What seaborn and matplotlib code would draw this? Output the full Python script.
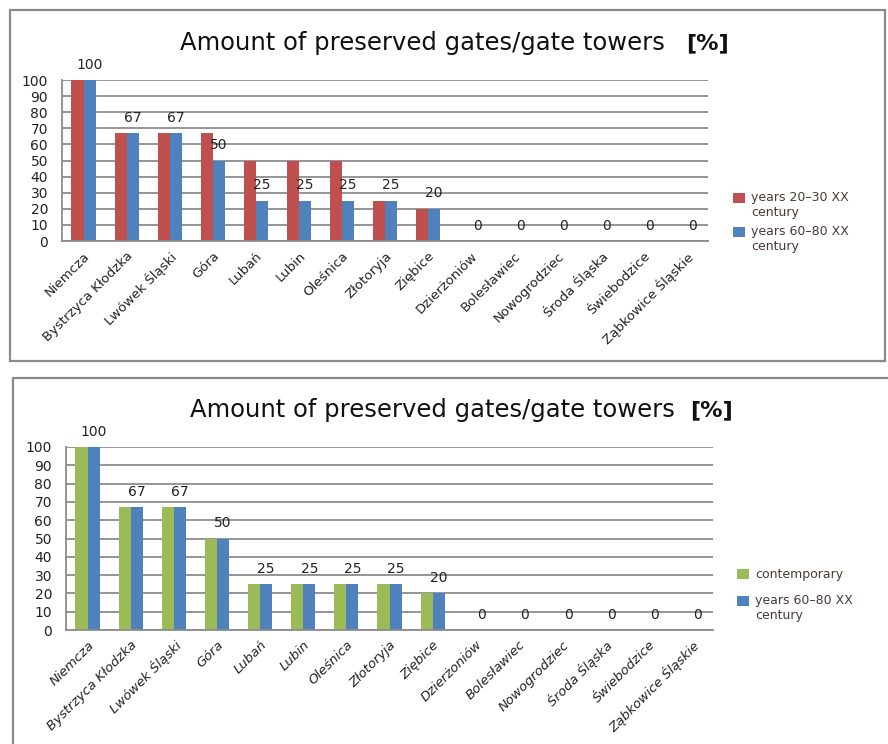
import numpy as np
import pandas as pd
import matplotlib
matplotlib.use("Agg")
import matplotlib.pyplot as plt
import seaborn as sns
from matplotlib.patches import Rectangle
from matplotlib.legend_handler import HandlerPatch

# towns (same order in both charts)
towns = ["Niemcza", "Bystrzyca Kłodzka", "Lwówek Śląski", "Góra", "Lubań", "Lubin",
         "Oleśnica", "Złotoryja", "Ziębice", "Dzierżoniów", "Bolesławiec",
         "Nowogrodziec", "Środa Śląska", "Świebodzice", "Ząbkowice Śląskie"]

# percent of preserved gates / gate towers
years_20_30 = [100, 67, 67, 67, 50, 50, 50, 25, 20, 0, 0, 0, 0, 0, 0]
years_60_80 = [100, 67, 67, 50, 25, 25, 25, 25, 20, 0, 0, 0, 0, 0, 0]
contemporary = [100, 67, 67, 50, 25, 25, 25, 25, 20, 0, 0, 0, 0, 0, 0]

label_20_30 = "years 20–30 XX\ncentury"
label_60_80 = "years 60–80 XX\ncentury"
label_now = "contemporary"

RED = "#C0504D"
BLUE = "#4F81BD"
GREEN = "#9BBB59"
GRID = "#8c8c8c"

sns.set_style("white")
plt.rcParams["font.family"] = ["DejaVu Sans"]

W, H = 888, 744
fig = plt.figure(figsize=(W / 100, H / 100), dpi=100)


def px(x0, y0, x1, y1):
    # pixel box -> figure fraction [left, bottom, width, height]
    return [x0 / W, 1 - y1 / H, (x1 - x0) / W, (y1 - y0) / H]


def square(shift):
    # legend square lined up with the first line of a two-line label
    def make(legend, orig_handle, xdescent, ydescent, width, height, fontsize):
        return Rectangle((-xdescent, -ydescent + shift * fontsize), width, height)
    return HandlerPatch(patch_func=make)


def draw_panel(ax, first, first_label, first_color, italic):
    df = pd.DataFrame({
        "town": towns * 2,
        "value": first + years_60_80,
        "period": [first_label] * len(towns) + [label_60_80] * len(towns),
    })
    sns.barplot(data=df, x="town", y="value", hue="period",
                hue_order=[first_label, label_60_80],
                palette=[first_color, BLUE], width=0.56, saturation=1,
                linewidth=0, edgecolor="none",
                ax=ax, legend=True)
    ax.set_xlim(-0.5, len(towns) - 0.5)
    ax.set_ylim(0, 100)
    ax.set_yticks(np.arange(0, 101, 10))
    ax.set_xlabel("")
    ax.set_ylabel("")
    ax.grid(axis="y", color=GRID, linewidth=1.3)
    ax.set_axisbelow(True)
    for s in ["top", "right"]:
        ax.spines[s].set_visible(False)
    for s in ["left", "bottom"]:
        ax.spines[s].set_color(GRID)
        ax.spines[s].set_linewidth(1.3)
    ax.set_xticks(np.arange(-0.5, len(towns), 1), minor=True)
    ax.tick_params(axis="x", which="major", length=0, pad=6)
    ax.tick_params(axis="x", which="minor", length=5, color=GRID, width=1.2)
    ax.tick_params(axis="y", length=5, color=GRID, width=1.2, labelsize=10,
                   pad=5, labelcolor="#222222")
    ax.set_xticks(range(len(towns)))
    ax.set_xticklabels(towns, rotation=45, ha="right", rotation_mode="anchor",
                       fontsize=9.5, color="#222222",
                       fontstyle="italic" if italic else "normal")
    # value labels over the 60-80 series
    ax.bar_label(ax.containers[1], fmt="%d", padding=6, fontsize=10, color="#222222")
    handles, labels = ax.get_legend_handles_labels()
    return handles, labels


# top chart
fig.patches.append(Rectangle((10 / W, 1 - 361 / H), 875 / W, 351 / H,
                             transform=fig.transFigure, fill=False,
                             edgecolor="#8a8a8a", linewidth=1.6))
ax1 = fig.add_axes(px(62, 80, 708, 241))
h1, l1 = draw_panel(ax1, years_20_30, label_20_30, RED, italic=False)
ax1.legend(h1, l1, loc="upper left", bbox_to_anchor=(722 / W, 1 - 180 / H),
           bbox_transform=fig.transFigure, frameon=False, fontsize=9,
           handlelength=0.9, handleheight=0.9, handletextpad=0.5,
           labelspacing=0.45, labelcolor="#4a3a36",
           handler_map={h: square(0.62) for h in h1})
fig.text(180 / W, 1 - 43 / H, "Amount of preserved gates/gate towers",
         fontsize=17.5, ha="left", va="center", color="#111111")
fig.text(686 / W, 1 - 43 / H, "[%]", fontsize=16, fontweight="bold",
         ha="left", va="center", color="#111111")

# bottom chart
fig.patches.append(Rectangle((13 / W, 1 - 760 / H), 880 / W, 382 / H,
                             transform=fig.transFigure, fill=False,
                             edgecolor="#8a8a8a", linewidth=1.6))
ax2 = fig.add_axes(px(66, 447, 713, 630))
h2, l2 = draw_panel(ax2, contemporary, label_now, GREEN, italic=True)
ax2.legend(h2, l2, loc="upper left", bbox_to_anchor=(726 / W, 1 - 557 / H),
           bbox_transform=fig.transFigure, frameon=False, fontsize=9,
           handlelength=0.9, handleheight=0.9, handletextpad=0.5,
           labelspacing=1.0, labelcolor="#4a3a36",
           handler_map={h2[0]: square(0), h2[1]: square(0.62)})
fig.text(190 / W, 1 - 410 / H, "Amount of preserved gates/gate towers",
         fontsize=17.5, ha="left", va="center", color="#111111")
fig.text(690 / W, 1 - 410 / H, "[%]", fontsize=16, fontweight="bold",
         ha="left", va="center", color="#111111")

fig.savefig("out.png", dpi=100)
